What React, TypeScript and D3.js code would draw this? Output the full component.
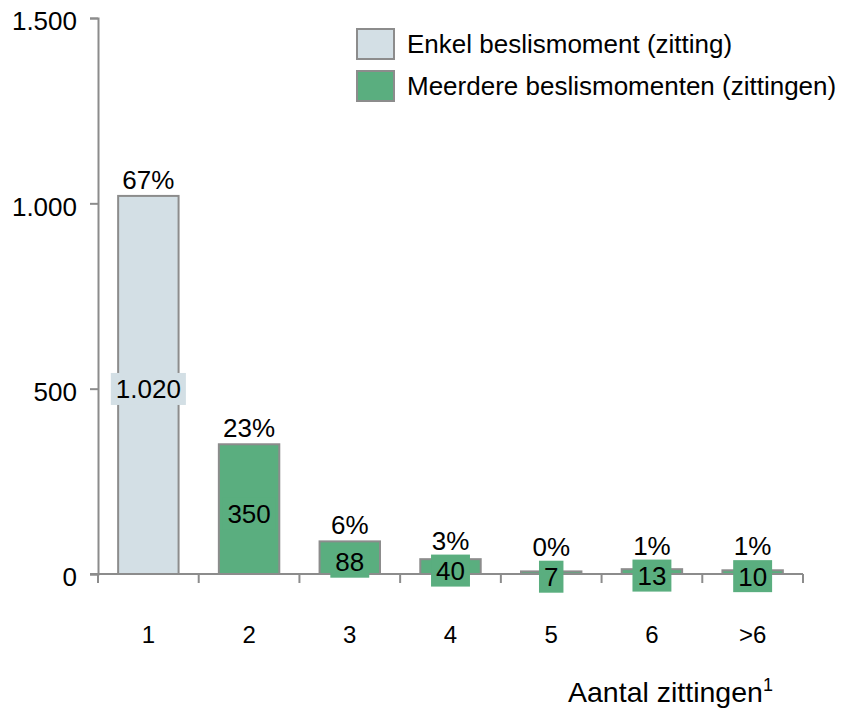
import React, { useRef, useEffect } from "react";
import * as d3 from "d3";

// data
const categories = ["1", "2", "3", "4", "5", "6", ">6"];
const counts = [1020, 350, 88, 40, 7, 13, 10];
const seriesNames = ["Enkel beslismoment (zitting)", "Meerdere beslismomenten (zittingen)"];
const yTicks = [0, 500, 1000, 1500];

const lightFill = "#d3dfe5";
const greenFill = "#5aae7f";
const strokeCol = "#8c8c8c";
const font = "Liberation Sans, Arial, sans-serif";

export default function App() {
  const svgRef = useRef<SVGSVGElement>(null);

  useEffect(() => {
    const svg = d3.select(svgRef.current);
    svg.selectAll("*").remove();

    const left = 98, right = 803, top = 18, bottom = 574;
    const nl = d3.formatLocale({ decimal: ",", thousands: ".", grouping: [3], currency: ["€", ""] });
    const fmt = nl.format(",d");
    const total = d3.sum(counts);

    const x = d3.scaleBand().domain(categories).range([left, right]).paddingInner(0.4).paddingOuter(0.2);
    const y = d3.scaleLinear().domain([0, 1500]).range([bottom, top]);
    const fillOf = (i: number) => (i === 0 ? lightFill : greenFill);
    const cx = (i: number) => x(categories[i])! + x.bandwidth() / 2;
    // centre of the value label box
    const labelY = (d: number) => (y(d) + bottom) / 2 + 4;

    // y axis
    const yAxis = svg.append("g").attr("transform", `translate(${left},0)`)
      .call(d3.axisLeft(y).tickValues(yTicks).tickSize(8).tickPadding(13).tickFormat((d: any) => fmt(d)));
    yAxis.select(".domain").attr("stroke", strokeCol).attr("stroke-width", 2);
    yAxis.selectAll(".tick line").attr("stroke", strokeCol).attr("stroke-width", 2);
    yAxis.selectAll("text").attr("font-size", 26).attr("font-family", font).attr("fill", "#000").attr("dy", "0.45em");

    // bars
    svg.append("g").selectAll("rect.bar").data(counts).join("rect")
      .attr("class", "bar")
      .attr("x", (_d, i) => x(categories[i])!)
      .attr("width", x.bandwidth())
      .attr("y", (d) => y(d))
      .attr("height", (d) => bottom - y(d))
      .attr("fill", (_d, i) => fillOf(i))
      .attr("stroke", strokeCol)
      .attr("stroke-width", 2);

    // x axis
    const xTickPos = d3.range(categories.length + 1).map((i) => left + i * (right - left) / categories.length);
    svg.append("line").attr("x1", left - 8).attr("x2", right).attr("y1", bottom).attr("y2", bottom)
      .attr("stroke", strokeCol).attr("stroke-width", 2);
    svg.selectAll("line.xt").data(xTickPos).join("line").attr("class", "xt")
      .attr("x1", (d) => d).attr("x2", (d) => d).attr("y1", bottom).attr("y2", bottom + 9)
      .attr("stroke", strokeCol).attr("stroke-width", 2);
    svg.selectAll("text.xl").data(categories).join("text").attr("class", "xl")
      .attr("x", (d) => x(d)! + x.bandwidth() / 2).attr("y", 643)
      .attr("text-anchor", "middle").attr("font-size", 24).attr("font-family", font).text((d) => d);

    // percent labels (above bar, or above the value box when the bar is tiny)
    svg.selectAll("text.pct").data(counts).join("text").attr("class", "pct")
      .attr("x", (_d, i) => cx(i))
      .attr("y", (d) => Math.min(y(d) - 7, labelY(d) - 16 - 5))
      .attr("text-anchor", "middle").attr("font-size", 26).attr("font-family", font)
      .text((d) => `${Math.round((d / total) * 100)}%`);

    // value labels with boxes
    const vl = svg.selectAll("g.vl").data(counts).join("g").attr("class", "vl")
      .attr("transform", (d, i) => `translate(${cx(i)},${labelY(d)})`);
    vl.append("text").attr("text-anchor", "middle").attr("dy", "0.36em")
      .attr("font-size", 26).attr("font-family", font).text((d) => fmt(d));
    vl.each(function (_d, i) {
      const gg = d3.select(this);
      const bb = (gg.select("text").node() as SVGTextElement).getBBox();
      gg.insert("rect", "text").attr("x", bb.x - 5).attr("width", bb.width + 10)
        .attr("y", -16).attr("height", 32).attr("fill", fillOf(i));
    });

    // legend
    const lg = svg.append("g");
    seriesNames.forEach((name, i) => {
      lg.append("rect").attr("x", 357).attr("y", 29 + i * 42).attr("width", 37).attr("height", 30)
        .attr("fill", fillOf(i)).attr("stroke", strokeCol).attr("stroke-width", 2);
      lg.append("text").attr("x", 407).attr("y", 53 + i * 42).attr("font-size", 26)
        .attr("font-family", font).text(name);
    });

    // axis title
    const t = svg.append("text").attr("x", 568).attr("y", 702)
      .attr("font-size", 28.5).attr("font-family", font);
    t.append("tspan").text("Aantal zittingen");
    t.append("tspan").attr("font-size", 18).attr("dy", -11).text("1");
  }, []);

  return (
    <svg ref={svgRef} width={845} height={708} style={{ position: "absolute", left: 0, top: 0, background: "#fff" }} />
  );
}
